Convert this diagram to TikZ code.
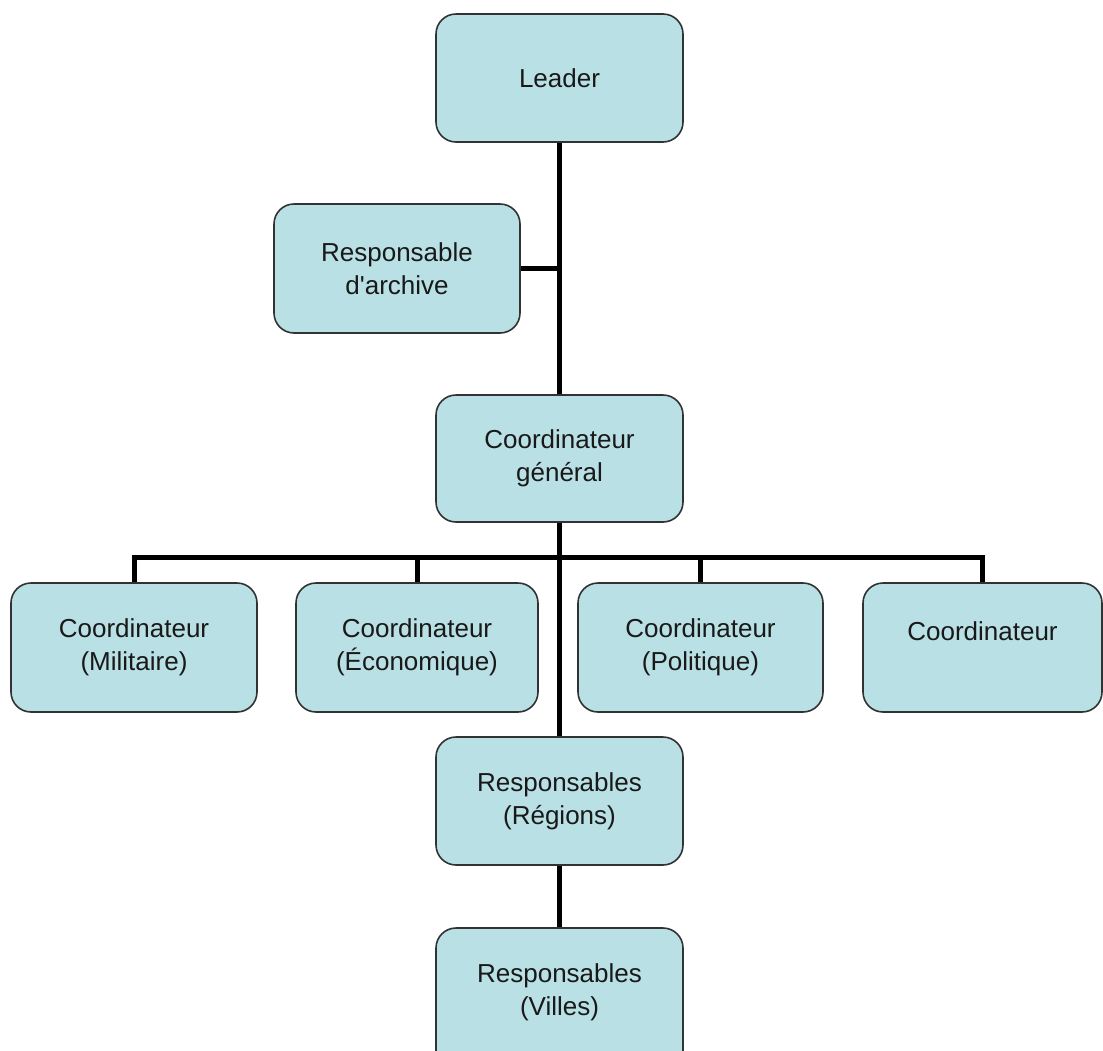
\documentclass[tikz,border=0pt]{standalone}
\usepackage{fontspec}
% plain family: keeps the straight apostrophe
\newfontfamily\labelfont{Liberation Sans}
\begin{document}
\definecolor{boxfill}{RGB}{185,224,228}
\definecolor{boxline}{RGB}{50,50,50}
\definecolor{txt}{RGB}{25,25,25}
\begin{tikzpicture}[x=1pt,y=-1pt,
  labeltext/.style={text=txt, font=\labelfont\fontsize{26}{33}\selectfont, align=center},
  unit/.style={labeltext, draw=boxline, line width=1.6pt, fill=boxfill, rounded corners=20pt,
    minimum width=246pt, minimum height=128pt, inner sep=0pt},
  conn/.style={line width=5pt, line join=miter, black}]
\useasboundingbox (0,0) rectangle (1103,1050);

% connectors first, boxes on top
\coordinate (bus) at (559.5,557);
\coordinate (lead) at (559.5,78);
\coordinate (gen) at (559.5,458.5);
\coordinate (reg) at (559.5,801);
\coordinate (vil) at (559.5,1003);
\coordinate (arc) at (397,268.5);
\coordinate (mil) at (134,647.5);
\coordinate (eco) at (417,647.5);
\coordinate (pol) at (700.5,647.5);
\coordinate (oth) at (982.5,647.5);

\draw[conn] (lead) -- (gen);
\draw[conn] (arc) -- (lead |- arc);
\draw[conn] (gen) -- (reg);
\draw[conn] (reg) -- (vil);
\draw[conn] (mil) |- (bus) -| (oth);
\draw[conn] (eco) |- (bus) -| (pol);

\node[unit, minimum width=247pt] (leader) at (lead) {Leader};
\node[unit, minimum height=129pt] (archive) at (arc) {Responsable\\d'archive};
\node[unit, minimum width=247pt, minimum height=127pt] (general) at (gen) {Coordinateur\\général};
\node[unit, minimum height=129pt] (militaire) at (mil) {Coordinateur\\(Militaire)};
\node[unit, minimum width=242pt, minimum height=129pt] (economique) at (eco) {Coordinateur\\(Économique)};
\node[unit, minimum width=245pt, minimum height=129pt] (politique) at (pol) {Coordinateur\\(Politique)};
\node[unit, minimum width=239pt, minimum height=129pt] (autre) at (oth) {Coordinateur\\\mbox{}};
\node[unit, minimum width=247pt] (regions) at (reg) {Responsables\\(Régions)};
% the last box runs past the lower edge of the page
\node[unit, minimum width=247pt, minimum height=150pt] (villes) at (vil) {};
\node[labeltext, inner sep=0pt] (villestxt) at (559.5,992) {Responsables\\(Villes)};
\end{tikzpicture}
\end{document}
